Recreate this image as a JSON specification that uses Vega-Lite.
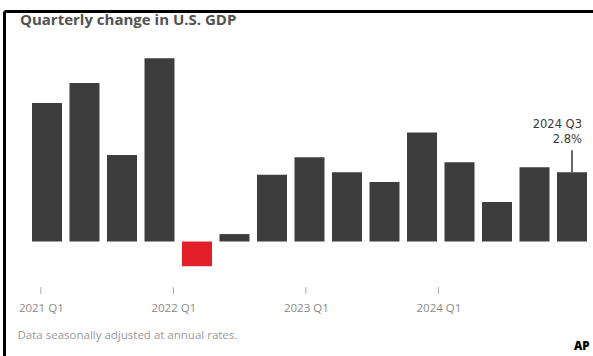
{
  "$schema": "https://vega.github.io/schema/vega-lite/v6.json",
  "width": 589,
  "height": 345,
  "autosize": {"type": "none"},
  "padding": {"left": 4, "top": 11, "right": 0, "bottom": 0},
  "background": "white",
  "title": {
    "text": "Quarterly change in U.S. GDP",
    "anchor": "start",
    "frame": "group",
    "offset": -17,
    "dx": 16,
    "font": "Open Sans",
    "fontSize": 15,
    "fontWeight": "bold",
    "color": "#525252"
  },
  "layer": [
    {
      "data": {
        "values": [
          {"quarter": "2021 Q1", "gdp": 5.6},
          {"quarter": "2021 Q2", "gdp": 6.4},
          {"quarter": "2021 Q3", "gdp": 3.5},
          {"quarter": "2021 Q4", "gdp": 7.4},
          {"quarter": "2022 Q1", "gdp": -1.0},
          {"quarter": "2022 Q2", "gdp": 0.3},
          {"quarter": "2022 Q3", "gdp": 2.7},
          {"quarter": "2022 Q4", "gdp": 3.4},
          {"quarter": "2023 Q1", "gdp": 2.8},
          {"quarter": "2023 Q2", "gdp": 2.4},
          {"quarter": "2023 Q3", "gdp": 4.4},
          {"quarter": "2023 Q4", "gdp": 3.2},
          {"quarter": "2024 Q1", "gdp": 1.6},
          {"quarter": "2024 Q2", "gdp": 3.0},
          {"quarter": "2024 Q3", "gdp": 2.8}
        ]
      },
      "encoding": {
        "x": {
          "field": "quarter",
          "type": "ordinal",
          "sort": null,
          "scale": {"range": [0, 589], "paddingInner": 0.2, "paddingOuter": 0.4533, "align": 0.8235},
          "axis": {"orient": "top", "domain": true, "domainColor": "black", "domainWidth": 3, "ticks": false, "labels": false, "grid": false, "title": null}
        },
        "y": {
          "field": "gdp",
          "type": "quantitative",
          "scale": {"domain": [-4.626, 9.313], "nice": false, "zero": false},
          "axis": {
            "orient": "left",
            "domain": true,
            "domainColor": "black",
            "domainWidth": 3,
            "ticks": false,
            "labels": false,
            "grid": false,
            "title": "AP",
            "titleAngle": 0,
            "titleAlign": "right",
            "titleBaseline": "alphabetic",
            "titleX": 585,
            "titleY": 338,
            "titleFont": "Open Sans",
            "titleFontSize": 11.5,
            "titleFontWeight": 900,
            "titleColor": "black"
          }
        }
      },
      "layer": [
        {
          "mark": {"type": "bar"},
          "encoding": {
            "color": {"condition": {"test": "datum.gdp < 0", "value": "#e3202a"}, "value": "#3d3d3d"}
          }
        },
        {
          "transform": [{"filter": "datum.quarter === '2024 Q3'"}],
          "mark": {"type": "rule", "color": "#333333", "strokeWidth": 1.5, "y2Offset": -22},
          "encoding": {"y2": {"field": "gdp"}}
        },
        {
          "transform": [
            {"filter": "datum.quarter === '2024 Q3'"},
            {"calculate": "[datum.quarter, format(datum.gdp, '.1f') + '%']", "as": "annot"}
          ],
          "mark": {"type": "text", "align": "right", "baseline": "bottom", "dx": 10, "dy": -42, "font": "DejaVu Sans", "fontSize": 11.5, "lineHeight": 14.5, "color": "#3a3a3a"},
          "encoding": {"text": {"field": "annot"}}
        }
      ]
    },
    {
      "data": {"values": [{"year": 2021}, {"year": 2022}, {"year": 2023}, {"year": 2024}]},
      "mark": {"type": "rule", "color": "#a8a8a8", "strokeWidth": 1},
      "encoding": {
        "x": {
          "field": "year",
          "type": "quantitative",
          "scale": {"domain": [2020.7223, 2025.1666], "nice": false, "zero": false},
          "axis": {
            "orient": "bottom",
            "offset": -69,
            "values": [2021, 2022, 2023, 2024],
            "labelExpr": "datum.value + ' Q1'",
            "domain": false,
            "grid": false,
            "ticks": false,
            "tickSize": 7,
            "labelColor": "#8a8a8a",
            "labelFont": "Open Sans",
            "labelFontSize": 11.5,
            "labelPadding": 15,
            "title": "Data seasonally adjusted at annual rates.",
            "titleX": 13,
            "titleY": 48,
            "titleAlign": "left",
            "titleAnchor": "start",
            "titleBaseline": "middle",
            "titleFont": "Open Sans",
            "titleFontWeight": "normal",
            "titleFontSize": 11.5,
            "titleColor": "#9a9a9a"
          }
        },
        "y": {"datum": -1.84},
        "y2": {"datum": -2.12}
      }
    }
  ],
  "resolve": {"scale": {"x": "independent"}, "axis": {"x": "independent"}},
  "config": {"view": {"stroke": null}}
}
